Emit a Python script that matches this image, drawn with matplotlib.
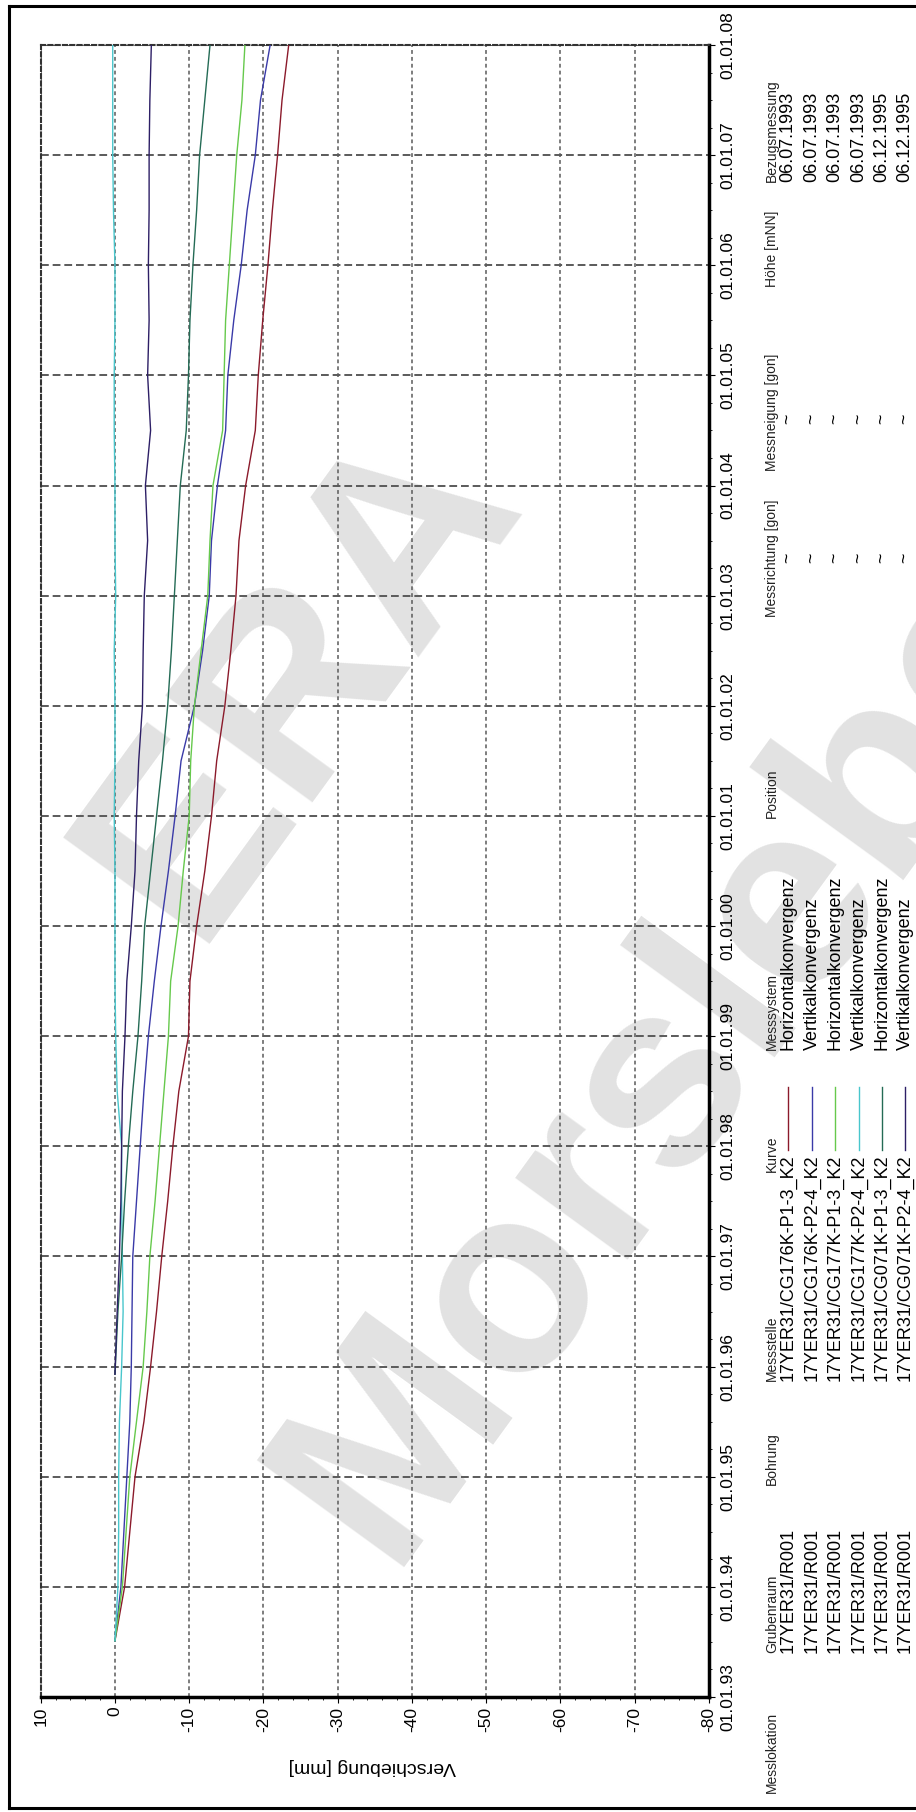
"""
Konvergenzmessung 17YER31 - rotated displacement chart.
"""

import matplotlib

matplotlib.use("Agg")
import matplotlib.pyplot as plt
from matplotlib.lines import Line2D
from matplotlib.ticker import MultipleLocator

plt.rcParams["font.family"] = ["Liberation Sans", "DejaVu Sans"]

W, H = 916, 1812

# measurement dates (decimal years)
YEARS_1993 = [1993.51, 1994.0, 1994.5, 1995.0, 1995.5, 1996.0, 1996.5, 1997.0,
              1997.5, 1998.0, 1998.5, 1999.0, 1999.5, 2000.0, 2000.5, 2001.0,
              2001.5, 2002.0, 2002.5, 2003.0, 2003.5, 2004.0, 2004.5, 2005.0,
              2005.5, 2006.0, 2006.5, 2007.0, 2007.5, 2008.0]
YEARS_1995 = [1995.93, 1996.5, 1997.0, 1997.5, 1998.0, 1998.5, 1999.0, 1999.5,
              2000.0, 2000.5, 2001.0, 2001.5, 2002.0, 2002.5, 2003.0, 2003.5,
              2004.0, 2004.5, 2005.0, 2005.5, 2006.0, 2006.5, 2007.0, 2007.5,
              2008.0]

# displacement in mm
CG176_P13 = [0.0, -1.3, -2.0, -2.7, -3.9, -4.8, -5.6, -6.3, -7.1, -7.8, -8.6,
             -9.9, -10.1, -11.0, -12.1, -13.0, -13.7, -14.8, -15.6, -16.3,
             -16.7, -17.6, -18.9, -19.3, -19.9, -20.6, -21.2, -21.9, -22.5,
             -23.4]
CG176_P24 = [0.0, -0.8, -1.2, -1.6, -2.0, -2.2, -2.3, -2.4, -2.9, -3.4, -3.9,
             -4.5, -5.3, -6.2, -7.2, -8.1, -8.9, -10.7, -11.8, -12.7, -13.0,
             -13.8, -14.9, -15.2, -16.0, -17.0, -17.8, -18.9, -19.6, -20.9]
CG177_P13 = [0.0, -1.0, -1.5, -2.0, -2.9, -3.8, -4.3, -4.7, -5.4, -6.0, -6.6,
             -7.2, -7.5, -8.5, -9.2, -10.0, -10.2, -10.7, -11.6, -12.5, -12.8,
             -13.2, -14.5, -14.7, -14.9, -15.4, -15.9, -16.4, -17.1, -17.5]
CG177_P24 = [0.0, -0.4, -0.5, -0.5, -0.6, -0.9, -1.1, -1.0, -0.9, -0.9, -0.3,
             -0.1, 0.0, 0.0, 0.0, 0.1, 0.0, 0.0, 0.1, -0.1, 0.0, 0.0, 0.1, 0.1,
             0.0, 0.0, 0.2, 0.3, 0.3, 0.3]
CG071_P13 = [0.0, -0.4, -0.9, -1.3, -1.8, -2.4, -3.1, -3.6, -4.0, -4.8, -5.6,
             -6.4, -7.1, -7.6, -8.0, -8.4, -8.8, -9.6, -9.9, -10.1, -10.5,
             -11.0, -11.4, -12.1, -12.8]
CG071_P24 = [0.0, -0.3, -0.6, -0.8, -0.9, -1.0, -1.35, -1.6, -2.2, -2.7, -2.9,
             -3.2, -3.7, -3.8, -3.95, -4.4, -4.1, -4.8, -4.4, -4.6, -4.5, -4.6,
             -4.6, -4.7, -4.9]

MESSSTELLEN = ["17YER31/CG176K-P1-3_K2", "17YER31/CG176K-P2-4_K2",
               "17YER31/CG177K-P1-3_K2", "17YER31/CG177K-P2-4_K2",
               "17YER31/CG071K-P1-3_K2", "17YER31/CG071K-P2-4_K2"]
MESSSYSTEME = ["Horizontalkonvergenz", "Vertikalkonvergenz",
               "Horizontalkonvergenz", "Vertikalkonvergenz",
               "Horizontalkonvergenz", "Vertikalkonvergenz"]
BEZUG = ["06.07.1993", "06.07.1993", "06.07.1993", "06.07.1993",
         "06.12.1995", "06.12.1995"]
COLORS = ["#8b1a2b", "#3a3aa8", "#66c94c", "#48c6cc", "#246b55", "#2d1f66"]

SERIES = [(YEARS_1993, CG176_P13), (YEARS_1993, CG176_P24),
          (YEARS_1993, CG177_P13), (YEARS_1993, CG177_P24),
          (YEARS_1995, CG071_P13), (YEARS_1995, CG071_P24)]

TICK_YEARS = list(range(1993, 2009))
TICK_VALUES = [10, 0, -10, -20, -30, -40, -50, -60, -70, -80]


def fx(x):
    return x / W


def fy(y):
    return 1 - y / H


fig = plt.figure(figsize=(W / 100, H / 100), dpi=100, facecolor="white")

# watermark behind everything
wm = dict(color="#e2e2e2", fontsize=190, fontweight="bold", rotation=54,
          rotation_mode="anchor", ha="left", va="baseline", zorder=-10)
fig.text(fx(192), fy(944), "ERA", **wm)
fig.text(fx(387), fy(1567), "Morsleben", **wm)

left, right, top, bottom = 40.7, 709, 45, 1697
ax = fig.add_axes([fx(left), fy(bottom), fx(right - left), (bottom - top) / H])
ax.set_facecolor("none")

for (years, values), c in zip(SERIES, COLORS):
    ax.plot(values, years, color=c, lw=1.0, zorder=3)

ax.set_xlim(10, -80)
ax.set_ylim(1993, 2008)
ax.set_xticks(TICK_VALUES)
ax.set_xticklabels([str(v) for v in TICK_VALUES])
ax.xaxis.set_minor_locator(MultipleLocator(2))
ax.set_yticks(TICK_YEARS)
ax.set_yticklabels([f"01.01.{y % 100:02d}" for y in TICK_YEARS])
ax.yaxis.set_minor_locator(MultipleLocator(0.25))
ax.yaxis.tick_right()

ax.tick_params(axis="x", which="major", labelrotation=90, labelsize=12.5,
               length=4, pad=3, direction="out")
ax.tick_params(axis="y", which="major", labelrotation=90, labelsize=12.5,
               length=4, pad=4, direction="out")
ax.tick_params(which="minor", length=2.5, direction="out")
for lab in ax.get_yticklabels():
    lab.set_va("center")

ax.set_axisbelow(True)
ax.grid(axis="x", color="#5a5a5a", lw=1.1, linestyle=(0, (2.5, 2)))
ax.grid(axis="y", color="#5a5a5a", lw=1.4, linestyle=(0, (4, 2)))

for side in ("left", "top"):
    ax.spines[side].set_linestyle((0, (2, 1.5)))
    ax.spines[side].set_color("#333333")
    ax.spines[side].set_linewidth(1.5)
for side in ("right", "bottom"):
    ax.spines[side].set_color("black")
    ax.spines[side].set_linewidth(2.5)

fig.text(fx(372), fy(1767), "Verschiebung [mm]", rotation=180,
         ha="center", va="center", fontsize=14)

# legend table (rotated)
hdr = dict(rotation=90, ha="center", va="bottom", fontsize=10, color="#222222")
dat = dict(rotation=90, ha="center", va="bottom", fontsize=13)
HX = 772
ROW_X = [788, 812, 835, 859, 882, 905]

fig.text(fx(HX), fy(1793), "Messlokation", **hdr)
fig.text(fx(HX), fy(1653), "Grubenraum", **hdr)
fig.text(fx(HX), fy(1485), "Bohrung", **hdr)
fig.text(fx(HX), fy(1381), "Messstelle", **hdr)
fig.text(fx(HX), fy(1172), "Kurve", **hdr)
fig.text(fx(HX), fy(1050), "Messsystem", **hdr)
fig.text(fx(HX), fy(818), "Position", **hdr)
fig.text(fx(HX), fy(617), "Messrichtung [gon]", **hdr)
fig.text(fx(HX), fy(471), "Messneigung [gon]", **hdr)
fig.text(fx(HX), fy(287), "Höhe [mNN]", **hdr)
fig.text(fx(HX), fy(182), "Bezugsmessung", **hdr)

for i, x in enumerate(ROW_X):
    fig.text(fx(x), fy(1653), "17YER31/R001", **dat)
    fig.text(fx(x), fy(1381), MESSSTELLEN[i], **dat)
    fig.add_artist(Line2D([fx(x), fx(x)], [fy(1150), fy(1087)],
                          color=COLORS[i], lw=1.0, transform=fig.transFigure))
    fig.text(fx(x), fy(1050), MESSSYSTEME[i], **dat)
    fig.text(fx(x), fy(558), "~", rotation=90, ha="center", va="center",
             fontsize=13)
    fig.text(fx(x), fy(419), "~", rotation=90, ha="center", va="center",
             fontsize=13)
    fig.text(fx(x), fy(182), BEZUG[i], **dat)

# outer frame
frame = dict(color="black", lw=2.2, transform=fig.transFigure)
fig.add_artist(Line2D([fx(9), fx(9)], [fy(6), fy(1808)], **frame))
fig.add_artist(Line2D([fx(9), fx(W)], [fy(6), fy(6)], **frame))
fig.add_artist(Line2D([fx(9), fx(W)], [fy(1808), fy(1808)], **frame))

fig.savefig("out.png", dpi=100)
